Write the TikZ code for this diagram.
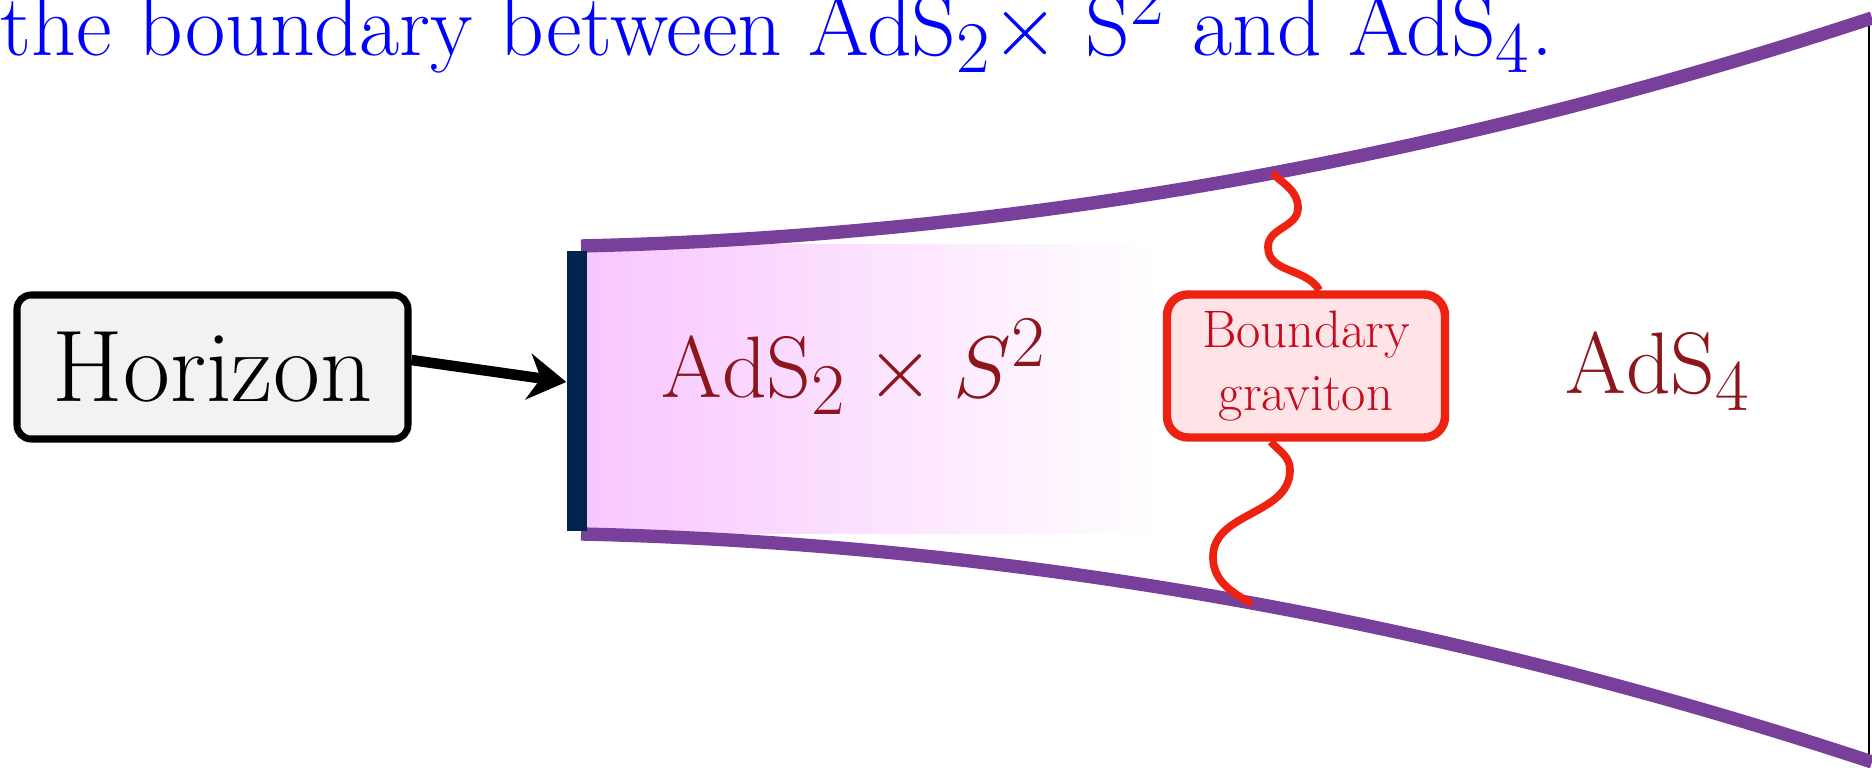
\documentclass[tikz,border=0pt]{standalone}
\usepackage{tikz}
\usetikzlibrary{arrows.meta,calc}
\definecolor{horizonnavy}{RGB}{0,35,80}
\definecolor{throatpurple}{RGB}{120,63,155}
\definecolor{adspink}{RGB}{248,198,255}
\definecolor{gravred}{RGB}{238,34,17}
\definecolor{gravfill}{RGB}{255,228,231}
\definecolor{gravtext}{RGB}{200,10,30}
\definecolor{labelred}{RGB}{140,22,28}
\definecolor{boxgray}{RGB}{242,242,242}

\begin{document}
\begin{tikzpicture}[
  throat/.style={line width=3.8pt,throatpurple},
  graviton/.style={line width=2.2pt,gravred},
  spacelabel/.style={labelred,font=\Huge,anchor=base},
]
\useasboundingbox (0,0) rectangle (18.72,7.68);

% ===== caption line (cut at the top) =====
\node[blue,font=\Huge,anchor=base west,inner sep=0pt] (caption) at (0,7.12)
  {the boundary between AdS$_2\times$ S$^2$ and AdS$_4$.};

% ===== AdS2 x S2 throat opening into AdS4 =====
\shade[left color=adspink,right color=white] (5.87,2.34) rectangle (11.58,5.23);
\draw[line width=0.6pt] (18.69,0.06) -- (18.69,7.50);
\foreach \s in {1,-1}{
  \draw[throat] (5.81,{3.78+1.44*\s}) .. controls (10.11,{3.78+1.54*\s}) and (14.42,{3.78+2.30*\s}) .. (18.72,{3.78+3.72*\s});
}

% horizon wall
\node[fill=horizonnavy,minimum width=0.2cm,minimum height=2.8cm,inner sep=0pt] (hzn) at (5.77,3.77) {};
\node[draw,line width=2pt,rounded corners=4pt,fill=boxgray,minimum width=3.91cm,minimum height=1.44cm,font=\fontsize{29}{34}\selectfont] (hlabel) at (2.125,4.01) {Horizon};
\draw[-{Stealth[length=3.8mm,width=4.6mm]},line width=3pt] (hlabel.2) -- ($(hzn.west)+(0,0.09)$);

% ===== boundary graviton =====
\node[draw=gravred,line width=2.4pt,fill=gravfill,rounded corners=6pt,text=gravtext,font=\fontsize{15}{18}\selectfont,align=center,minimum width=2.78cm,minimum height=1.43cm] (bgrav) at (13.06,4.02) {Boundary\\graviton};
\coordinate (gtop) at (12.72,5.95);
\coordinate (gbot) at (12.52,1.64);
\draw[graviton] (gtop) to[out=-43,in=90] (12.98,5.60) to[out=-90,in=90] (12.68,5.21) to[out=-90,in=120] (bgrav.80);
\draw[graviton] (bgrav.245) to[out=-47,in=90] (12.90,2.98) to[out=-90,in=90] (12.13,2.11) to[out=-90,in=150] (gbot);

% region labels
\node[spacelabel] (adsprod) at (8.54,3.70) {$\mathrm{AdS}_2\times S^2$};
\node[spacelabel] (adsfour) at (16.58,3.74) {$\mathrm{AdS}_4$};

\end{tikzpicture}
\end{document}
